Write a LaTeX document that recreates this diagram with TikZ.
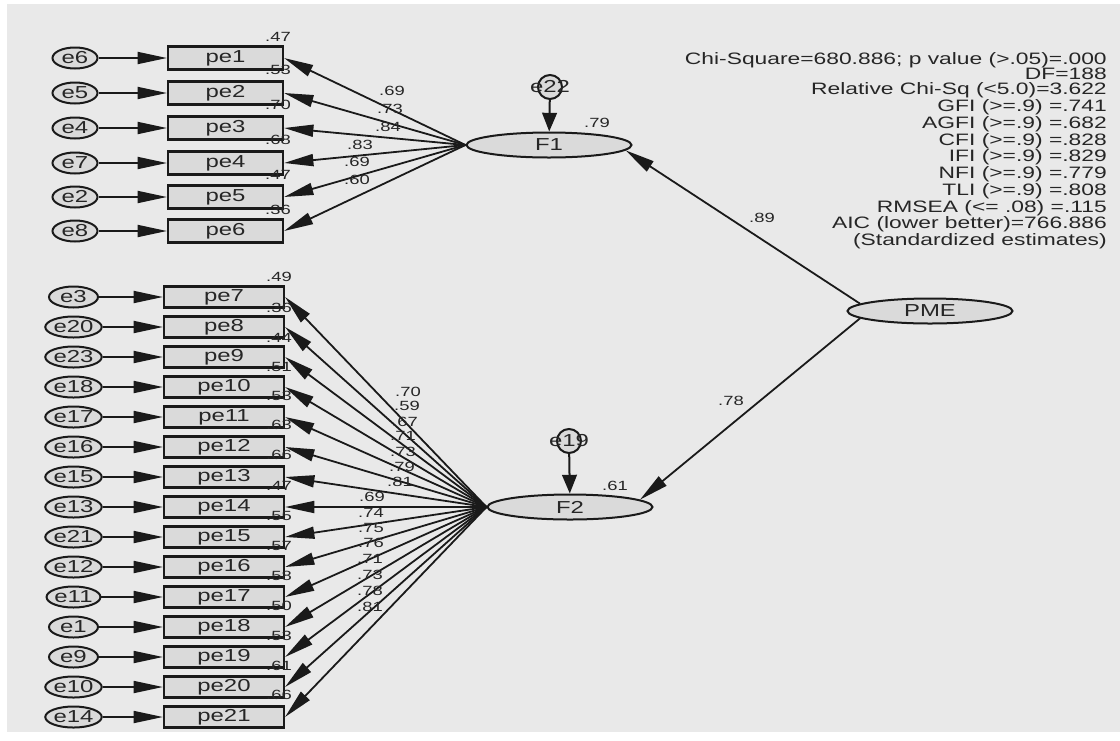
\documentclass[tikz,border=0pt]{standalone}
\usepackage{fontspec}
\setmainfont{Liberation Sans}[FakeStretch=1.38]
\usetikzlibrary{arrows.meta,shapes.geometric}
\definecolor{bg}{HTML}{E9E9E9}
\definecolor{boxfill}{HTML}{DADADA}
\definecolor{ink}{HTML}{1A1A1A}
\definecolor{txt}{HTML}{262626}
\newlength\pxu \setlength\pxu{0.75pt}
\begin{document}
\begin{tikzpicture}[x=0.75pt,y=-0.75pt,
  bigfont/.style={font=\fontsize{13}{14}\selectfont, text=txt},
  obs/.style={draw=ink, line width=1.6pt, fill=boxfill, minimum width=115\pxu, minimum height=23\pxu, inner sep=0, bigfont},
  obsb/.style={obs, minimum width=120\pxu, minimum height=21\pxu},
  err/.style={ellipse, draw=ink, line width=1.5pt, fill=boxfill, minimum width=45\pxu, minimum height=21\pxu, inner sep=0, bigfont},
  errb/.style={err, minimum width=49\pxu},
  lat/.style={ellipse, draw=ink, line width=1.5pt, fill=boxfill, minimum width=165\pxu, minimum height=25\pxu, inner sep=0, bigfont},
  res/.style={circle, draw=ink, line width=1.5pt, fill=boxfill, minimum size=24\pxu, inner sep=0, bigfont},
  link/.style={draw=ink, line width=1.35pt, -{Triangle[length=22pt,width=9pt]}},
  linkr/.style={draw=ink, line width=1.5pt, -{Triangle[length=14pt,width=11pt]}},
  num/.style={font=\fontsize{10}{11}\selectfont, text=txt, inner sep=0},
  stats/.style={font=\fontsize{12.4}{11.5}\selectfont, text=txt, inner sep=0, align=right},
]
\fill[white] (0,0) rectangle (1120,740);
\fill[bg] (7,4) rectangle (1120,732);
\useasboundingbox (0,0) rectangle (1120,740);

% latent variables
\node[lat] (F1) at (549,145) {F1};
\node[lat] (F2) at (570,507) {F2};
\node[lat] (PME) at (930,311) {PME};
\node[res] (e22) at (550,87) {\makebox[0pt]{e22}};
\node[res] (e19) at (569,441) {\makebox[0pt]{e19}};
\draw[linkr] (e22) -- (F1);
\draw[linkr] (e19) -- (F2);

% upper block
\foreach \i/\e/\y in {1/e6/58, 2/e5/93, 3/e4/128, 4/e7/163, 5/e2/197, 6/e8/231}{
  \node[obs] (pe\i) at (225.5,\y) {pe\i};
  \node[err] (\e) at (75,\y) {\e};
  \draw[link] (\e) -- (pe\i);
  \draw[link] (F1.west) -- (pe\i.east);
}
% lower block
\foreach \i/\e [count=\k from 0] in {7/e3,8/e20,9/e23,10/e18,11/e17,12/e16,13/e15,14/e13,15/e21,16/e12,17/e11,18/e1,19/e9,20/e10,21/e14}{
  \pgfmathsetmacro\y{297+30*\k}
  \node[obsb] (pe\i) at (224,\y) {pe\i};
  \node[errb] (\e) at (73.5,\y) {\e};
  \draw[link] (\e) -- (pe\i);
  \draw[link] (F2.west) -- (pe\i.east);
}

% structural paths
\draw[link] (PME.174) -- (F1.-4);
\draw[link] (PME.186) -- (F2.6);
\node[num] (l89) at (762,218) {.89};
\node[num] (l78) at (731,401) {.78};
\node[num] (r79) at (597,123) {.79};
\node[num] (r61) at (615,486) {.61};

% upper loadings
\foreach \v/\lx/\ly in {.69/392/91, .73/390/109, .84/388/127, .83/360/145, .69/357/162, .60/357/180}{
  \node[num] at (\lx,\ly) {\v};
}
% lower loadings
\foreach \v/\lx/\ly in {.70/408/392, .59/407/406, .67/405/422, .71/403/436, .73/403/452, .79/402/467, .81/400/482, .69/372/497, .74/371/513, .75/371/528, .76/371/543, .71/370/559, .73/370/575, .78/370/591, .81/370/607}{
  \node[num] at (\lx,\ly) {\v};
}
% squared multiple correlations
\foreach \v/\ly in {.47/37, .53/70, .70/105, .68/140, .47/175, .36/210}{
  \node[num] at (278,\ly) {\v};
}
\foreach \v/\ly in {.49/277, .36/308, .44/338, .51/367, .53/396, .63/425, .66/455, .47/486, .55/516, .57/546, .58/576, .50/606, .53/636, .61/666, .66/695}{
  \node[num] at (279,\ly) {\v};
}

% fit statistics
\node[stats, anchor=north east] (fit) at (1107,52) {Chi-Square=680.886; p value (>.05)=.000\\
DF=188\\
Relative Chi-Sq (<5.0)=3.622\\
GFI (>=.9) =.741\\
AGFI (>=.9) =.682\\
CFI (>=.9) =.828\\
IFI (>=.9) =.829\\
NFI (>=.9) =.779\\
TLI (>=.9) =.808\\
RMSEA (<= .08) =.115\\
AIC (lower better)=766.886\\
(Standardized estimates)};
\end{tikzpicture}
\end{document}
